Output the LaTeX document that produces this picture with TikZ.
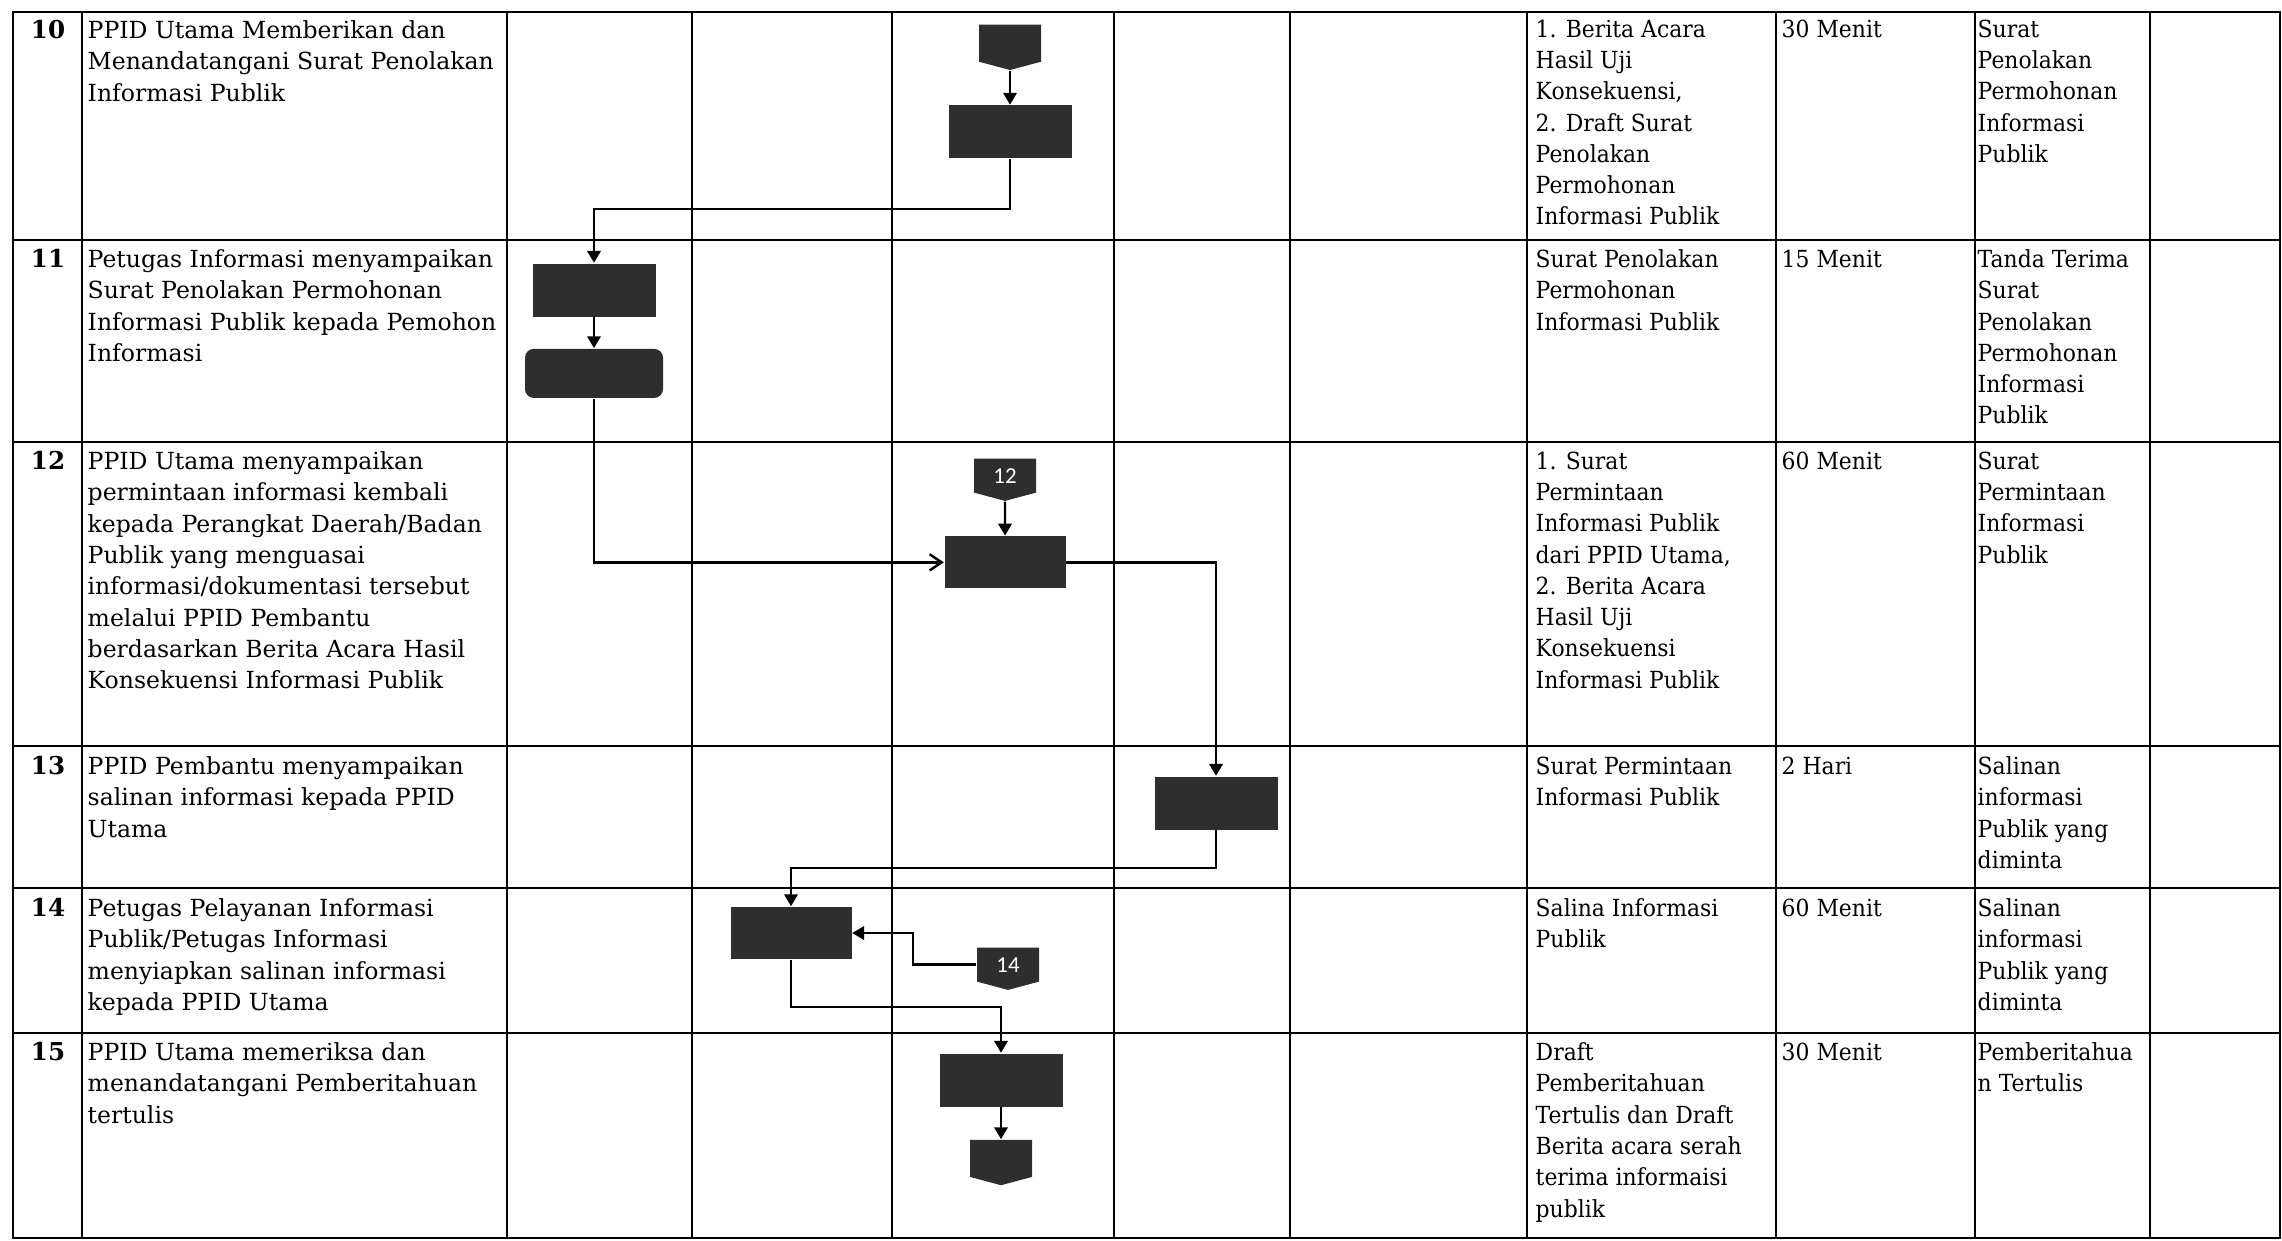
\documentclass[tikz,border=0pt]{standalone}
\usepackage{fontspec}
\setmainfont{DejaVu Serif}
\newfontfamily\narrowserif[FakeStretch=0.93]{DejaVu Serif}
\newfontfamily\tagsans{Carlito}
\usetikzlibrary{positioning,shapes.symbols,arrows.meta}
\definecolor{boxfill}{HTML}{2E2E2E}

\begin{document}
\begin{tikzpicture}[x=0.1mm,y=-0.1mm,
    grid/.style={line width=0.8pt},
    flow/.style={line width=0.7pt,-{Triangle[length=3.4pt,width=3.8pt]}},
    proc/.style={fill=boxfill,minimum width=12.3mm,minimum height=5.3mm,inner sep=0pt},
    offpage/.style={shape=signal,signal to=south,signal pointer angle=150,fill=boxfill,
      minimum width=6.2mm,minimum height=3.7mm,inner sep=0pt,text=white,
      font=\tagsans\fontsize{6.5}{7}\selectfont},
    num/.style={anchor=north,inner sep=0pt,font=\bfseries\fontsize{7}{8}\selectfont},
    desc/.style={anchor=north west,inner sep=0pt,align=left,font=\fontsize{6.7}{8.9}\selectfont},
    cell/.style={anchor=north west,inner sep=0pt,align=left,
      font=\narrowserif\fontsize{6.7}{8.9}\selectfont}]
\useasboundingbox (0,0) rectangle (2282,1240);

% tabel
\draw[grid] (13,12) rectangle (2280,1238);
\draw[grid] (13,240) -- (2280,240) (13,442) -- (2280,442) (13,746) -- (2280,746)
  (13,888) -- (2280,888) (13,1033) -- (2280,1033);
\draw[grid] (82,12) -- (82,1238) (507,12) -- (507,1238) (692,12) -- (692,1238)
  (892,12) -- (892,1238) (1114,12) -- (1114,1238) (1290,12) -- (1290,1238)
  (1527,12) -- (1527,1238) (1776,12) -- (1776,1238) (1975,12) -- (1975,1238)
  (2150,12) -- (2150,1238);

% baris 10
\node (n10) [num] at (48,20) {10};
\node (d10) [desc] at (87,20) {PPID Utama Memberikan dan\\Menandatangani Surat Penolakan\\Informasi Publik};
\node (in10) [cell] at (1535,19) {1. Berita Acara\\Hasil Uji\\Konsekuensi,\\2. Draft Surat\\Penolakan\\Permohonan\\Informasi Publik};
\node (t10) [cell] at (1781,19) {30 Menit};
\node (out10) [cell] at (1977,19) {Surat\\Penolakan\\Permohonan\\Informasi\\Publik};

% baris 11
\node (n11) [num] at (48,249) {11};
\node (d11) [desc] at (87,249) {Petugas Informasi menyampaikan\\Surat Penolakan Permohonan\\Informasi Publik kepada Pemohon\\Informasi};
\node (in11) [cell] at (1535,249) {Surat Penolakan\\Permohonan\\Informasi Publik};
\node (t11) [cell] at (1781,249) {15 Menit};
\node (out11) [cell] at (1977,249) {Tanda Terima\\Surat\\Penolakan\\Permohonan\\Informasi\\Publik};

% baris 12
\node (n12) [num] at (48,451) {12};
\node (d12) [desc] at (87,451) {PPID Utama menyampaikan\\permintaan informasi kembali\\kepada Perangkat Daerah/Badan\\Publik yang menguasai\\informasi/dokumentasi tersebut\\melalui PPID Pembantu\\berdasarkan Berita Acara Hasil\\Konsekuensi Informasi Publik};
\node (in12) [cell] at (1535,451) {1. Surat\\Permintaan\\Informasi Publik\\dari PPID Utama,\\2. Berita Acara\\Hasil Uji\\Konsekuensi\\Informasi Publik};
\node (t12) [cell] at (1781,451) {60 Menit};
\node (out12) [cell] at (1977,451) {Surat\\Permintaan\\Informasi\\Publik};

% baris 13
\node (n13) [num] at (48,756) {13};
\node (d13) [desc] at (87,756) {PPID Pembantu menyampaikan\\salinan informasi kepada PPID\\Utama};
\node (in13) [cell] at (1535,756) {Surat Permintaan\\Informasi Publik};
\node (t13) [cell] at (1781,756) {2 Hari};
\node (out13) [cell] at (1977,756) {Salinan\\informasi\\Publik yang\\diminta};

% baris 14
\node (n14) [num] at (48,898) {14};
\node (d14) [desc] at (87,898) {Petugas Pelayanan Informasi\\Publik/Petugas Informasi\\menyiapkan salinan informasi\\kepada PPID Utama};
\node (in14) [cell] at (1535,898) {Salina Informasi\\Publik};
\node (t14) [cell] at (1781,898) {60 Menit};
\node (out14) [cell] at (1977,898) {Salinan\\informasi\\Publik yang\\diminta};

% baris 15
\node (n15) [num] at (48,1042) {15};
\node (d15) [desc] at (87,1042) {PPID Utama memeriksa dan\\menandatangani Pemberitahuan\\tertulis};
\node (in15) [cell] at (1535,1042) {Draft\\Pemberitahuan\\Tertulis dan Draft\\Berita acara serah\\terima informaisi\\publik};
\node (t15) [cell] at (1781,1042) {30 Menit};
\node (out15) [cell] at (1977,1042) {Pemberitahua\\n Tertulis};

% bagan alir
\node (c10) [offpage,anchor=north] at (1010,24) {};
\node (p10) [proc,below=3.4mm of c10] {};
\node (p11) [proc] at (594,290) {};
\node (e11) [proc,rounded corners=2.5pt,minimum width=13.8mm,minimum height=4.9mm,below=3.1mm of p11] {};
\node (c12) [offpage,anchor=north] at (1005,458) {12};
\node (p12) [proc,minimum width=12.1mm,minimum height=5.2mm,below=3.4mm of c12] {};
\node (p13) [proc] at (1216,803) {};
\node (p14) [proc,minimum width=12.1mm,minimum height=5.2mm] at (791,933) {};
\node (c14) [offpage,anchor=north] at (1008,947) {14};
\node (p15) [proc] at (1001,1080) {};
\node (c15) [offpage,below=3.2mm of p15] {};

\coordinate (b10) at (594,209);
\coordinate (b13) at (1216,868);
\coordinate (b14) at (913,933);
\coordinate (b15) at (791,1007);

\draw[flow] (c10) -- (p10);
\draw[flow] (p10.south) |- (b10) -- (p11.north);
\draw[flow] (p11) -- (e11);
\draw[line width=0.7pt,-{Straight Barb[length=3.4pt,width=4.6pt]}] (e11.south) |- (p12.west);
\draw[flow] (c12) -- (p12);
\draw[flow] (p12.east) -| (p13.north);
\draw[flow] (p13.south) -- (b13) -| (p14.north);
\draw[flow] (c14.west) -| (b14) -- (p14.east);
\draw[flow] (p14.south) -- (b15) -| (p15.north);
\draw[flow] (p15) -- (c15);
\end{tikzpicture}
\end{document}
